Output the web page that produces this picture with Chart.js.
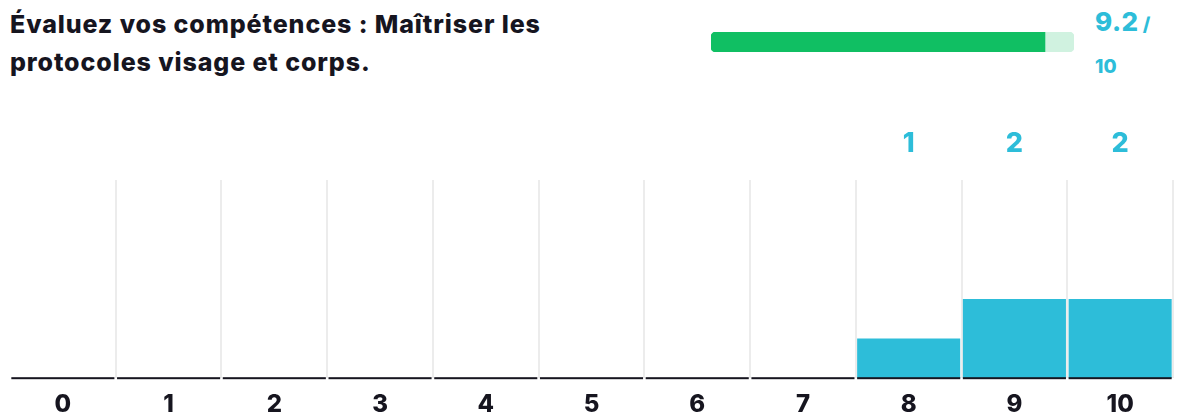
<!DOCTYPE html>
<html lang="fr">
<head>
<meta charset="utf-8">
<script src="https://cdn.jsdelivr.net/npm/chart.js@4/dist/chart.umd.min.js"></script>
<style>
  html, body { margin: 0; padding: 0; background: #fff; }
  body { width: 1186px; height: 414px; position: relative; overflow: hidden; font-family: Inter, sans-serif; }
  h1 {
    position: absolute; left: 10px; top: 5px; width: 600px; margin: 0;
    font-size: 25px; line-height: 38px; font-weight: 800; color: #16151f; letter-spacing: 0.9px;
  }
  #gauge { position: absolute; left: 711px; top: 32px; width: 363px; height: 20px; }
  #score { position: absolute; left: 1095px; top: 6px; color: #2dbdd9; font-weight: 800; line-height: 32px; }
  #score .avg { font-size: 26px; letter-spacing: 0.5px; }
  #score .sep { font-size: 19px; margin-left: 4px; }
  #score .max { display: block; font-size: 19px; margin-top: 10px; }
  #dist { position: absolute; left: 0; top: 100px; width: 1186px; height: 331px; }
</style>
</head>
<body>
<h1>Évaluez vos compétences : Maîtriser les protocoles visage et corps.</h1>
<div id="gauge"><canvas id="gaugeChart"></canvas></div>
<div id="score"><span class="avg"></span><span class="sep">/</span><span class="max"></span></div>
<div id="dist"><canvas id="distChart"></canvas></div>

<script>
// note distribution (0..10) and number of answers per note
const notes = ['0', '1', '2', '3', '4', '5', '6', '7', '8', '9', '10'];
const counts = [0, 0, 0, 0, 0, 0, 0, 0, 1, 2, 2];
const average = [9.2];
const maxNote = [10];

const CYAN = '#2dbdd9';
const INK = '#16151f';

document.querySelector('#score .avg').textContent = average[0];
document.querySelector('#score .max').textContent = maxNote[0];

// progress gauge: light track + green fill
new Chart(document.getElementById('gaugeChart'), {
    type: 'bar',
    data: {
        labels: ['moyenne'],
        datasets: [
            {
                data: average,
                backgroundColor: '#10bf63',
                borderSkipped: false,
                borderRadius: { topLeft: 5, bottomLeft: 5, topRight: 0, bottomRight: 0 },
                barPercentage: 1,
                categoryPercentage: 1
            },
            {
                data: maxNote,
                backgroundColor: '#d0f2e0',
                borderSkipped: false,
                borderRadius: 5,
                barPercentage: 1,
                categoryPercentage: 1
            }
        ]
    },
    options: {
        indexAxis: 'y',
        responsive: true,
        maintainAspectRatio: false,
        animation: false,
        events: [],
        layout: { padding: 0 },
        plugins: { legend: { display: false }, tooltip: { enabled: false } },
        scales: {
            x: { display: false, min: 0, max: maxNote[0], stacked: false },
            y: { display: false, stacked: true }
        }
    }
});

// counts above each bar + dark baseline under every bar
const barDecor = {
    id: 'barDecor',
    afterDatasetsDraw(chart) {
        const { ctx, chartArea } = chart;
        const meta = chart.getDatasetMeta(0);
        const base = chart.scales.y.getPixelForValue(0);
        ctx.save();
        meta.data.forEach((bar, i) => {
            const w = bar.width;
            ctx.fillStyle = INK;
            ctx.fillRect(bar.x - w / 2, base - 1, w, 2);
            if (counts[i] > 0) {
                ctx.fillStyle = CYAN;
                ctx.font = '800 27px Inter';
                ctx.textAlign = 'center';
                ctx.textBaseline = 'middle';
                ctx.fillText(String(counts[i]), bar.x, chartArea.top - 36);
            }
        });
        ctx.restore();
    }
};

new Chart(document.getElementById('distChart'), {
    type: 'bar',
    data: {
        labels: notes,
        datasets: [{
            data: counts,
            backgroundColor: CYAN,
            borderWidth: 0,
            barPercentage: 1,
            categoryPercentage: 0.975
        }]
    },
    options: {
        responsive: true,
        maintainAspectRatio: false,
        animation: false,
        events: [],
        layout: { padding: { top: 80, left: 10, right: 13, bottom: 0 } },
        plugins: { legend: { display: false }, tooltip: { enabled: false } },
        scales: {
            x: {
                grid: {
                    drawTicks: false,
                    lineWidth: 2,
                    color: (c) => (c.index === 0 || c.index === notes.length) ? 'rgba(0,0,0,0)' : '#ececec'
                },
                border: { display: false },
                ticks: {
                    color: INK,
                    padding: 12,
                    font: { family: 'Inter', size: 24, weight: '800' }
                }
            },
            y: { display: false, min: 0, max: 5 }
        }
    },
    plugins: [barDecor]
});
</script>
</body>
</html>
